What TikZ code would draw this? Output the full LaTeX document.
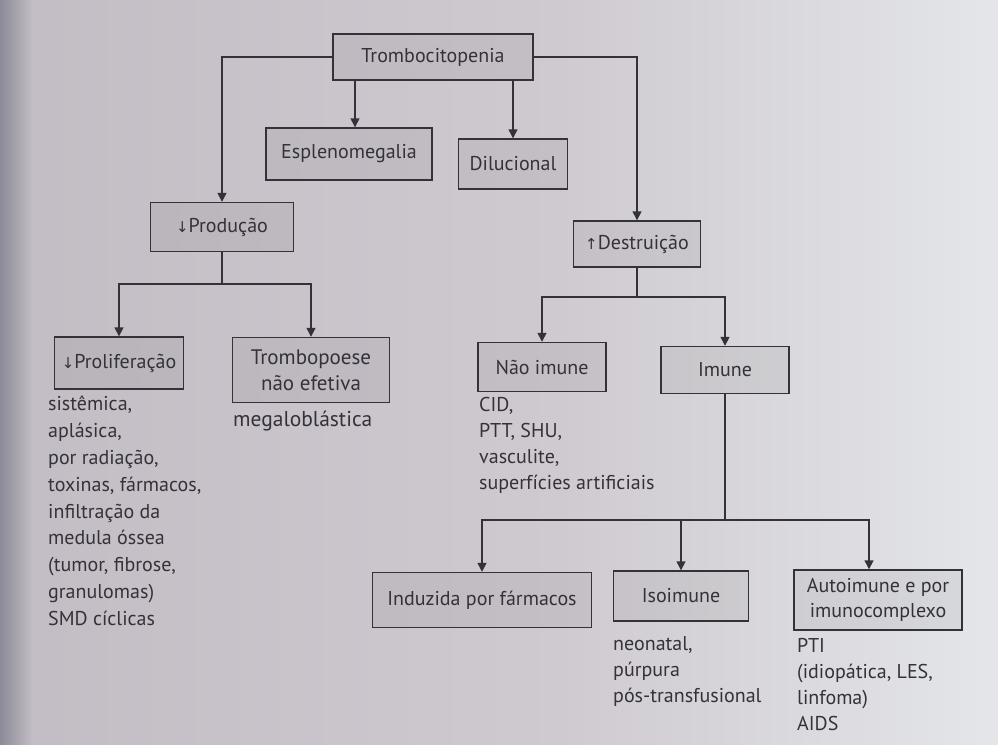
\documentclass[tikz,border=0pt]{standalone}
\usepackage{fontspec}
\setmainfont{PT Sans}
\newfontfamily\symf{DejaVu Sans}
\usetikzlibrary{arrows.meta,calc}
\definecolor{ink}{RGB}{52,50,56}
\definecolor{pageL}{RGB}{194,188,196}
\definecolor{pageM}{RGB}{207,202,208}
\definecolor{pageR}{RGB}{228,230,233}
\definecolor{stripc}{RGB}{140,138,152}
\newcommand{\dnar}{{\symf\fontsize{15}{15}\selectfont ↓}}
\newcommand{\uparr}{{\symf\fontsize{15}{15}\selectfont ↑}}
\tikzset{
  box/.style={draw=ink, line width=1.4pt, fill=black, fill opacity=0.05, text opacity=1,
    text=ink, font=\fontsize{20}{25}\selectfont, inner sep=0pt, align=center},
  ln/.style={draw=ink, line width=1.4pt},
  arr/.style={draw=ink, line width=1.4pt, -{Triangle[width=9pt,length=9pt]}},
  txt/.style={text=ink, font=\fontsize{20}{26}\selectfont, align=left, inner sep=0pt, anchor=north west}
}
\begin{document}
\begin{tikzpicture}[x=1pt,y=-1pt]
\useasboundingbox (0,0) rectangle (998,744);
\shade[left color=pageL, right color=pageM] (0,0) rectangle (560,744);
\shade[left color=pageM, right color=pageR] (560,0) rectangle (998,744);
\shade[left color=stripc, right color=pageL] (0,0) rectangle (32,744);

% boxes
\node[box, minimum width=200pt, minimum height=46pt] (tromb) at (433,57) {Trombocitopenia};
\node[box, minimum width=166pt, minimum height=52pt] (espl) at (349,154) {Esplenomegalia};
\node[box, minimum width=109pt, minimum height=50pt] (dil) at (513,164) {Dilucional};
\node[box, minimum width=143pt, minimum height=49pt] (prod) at (222,227) {\dnar Produção};
\node[box, minimum width=127pt, minimum height=46pt] (destr) at (637,244) {\uparr Destruição};
\node[box, minimum width=129pt, minimum height=52pt] (prolif) at (119,363) {\dnar Proliferação};
\node[box, minimum width=157pt, minimum height=65pt, font=\fontsize{21}{26}\selectfont] (tpoese) at (311,370) {Trombopoese\\não efetiva};
\node[box, minimum width=128pt, minimum height=49pt] (naoim) at (542,367) {Não imune};
\node[box, minimum width=128pt, minimum height=47pt] (imune) at (725,370) {Imune};
\node[box, minimum width=219pt, minimum height=55pt] (induz) at (482,600) {Induzida por fármacos};
\node[box, minimum width=135pt, minimum height=50pt] (isoim) at (681,596) {Isoimune};
\node[box, minimum width=168pt, minimum height=60pt] (autoim) at (878,600) {Autoimune e por\\imunocomplexo};

% free texts
\node[txt, font=\fontsize{20}{26.8}\selectfont] (tprolif) at (48,396) {sistêmica,\\aplásica,\\por radiação,\\toxinas, fármacos,\\infiltração da\\medula óssea\\(tumor, fibrose,\\granulomas)\\SMD cíclicas};
\node[txt, font=\fontsize{21.5}{26}\selectfont] (ttpoese) at (233,411) {megaloblástica};
\node[txt] (tnaoim) at (479,397) {CID,\\PTT, SHU,\\vasculite,\\superfícies artificiais};
\node[txt] (tisoim) at (613,636) {neonatal,\\púrpura\\pós-transfusional};
\node[txt] (tautoim) at (797,638) {PTI\\(idiopática, LES,\\linfoma)\\AIDS};

% junctions
\coordinate (pj) at (222,284);
\coordinate (dj) at (637,297);
\coordinate (ij) at (725,520);

% connectors
\draw[arr] (tromb.west) -| (prod.north);
\draw[arr] (tromb.east) -| (destr.north);
\draw[arr] (tromb.south -| espl.north) ++(6,0) -- ([xshift=6pt]espl.north);
\draw[arr] (tromb.south -| dil.north) -- (dil.north);

\draw[ln] (prod.south) -- (pj);
\draw[arr] (pj) -| (prolif.north);
\draw[arr] (pj) -| (tpoese.north);

\draw[ln] (destr.south) -- (dj);
\draw[arr] (dj) -| (naoim.north);
\draw[arr] (dj) -| (imune.north);

\draw[ln] (imune.south) -- (ij);
\draw[arr] (ij) -| (induz.north);
\draw[arr] (ij) -| (isoim.north);
\draw[arr] (ij) -| ([xshift=-9pt]autoim.north);
\end{tikzpicture}
\end{document}
